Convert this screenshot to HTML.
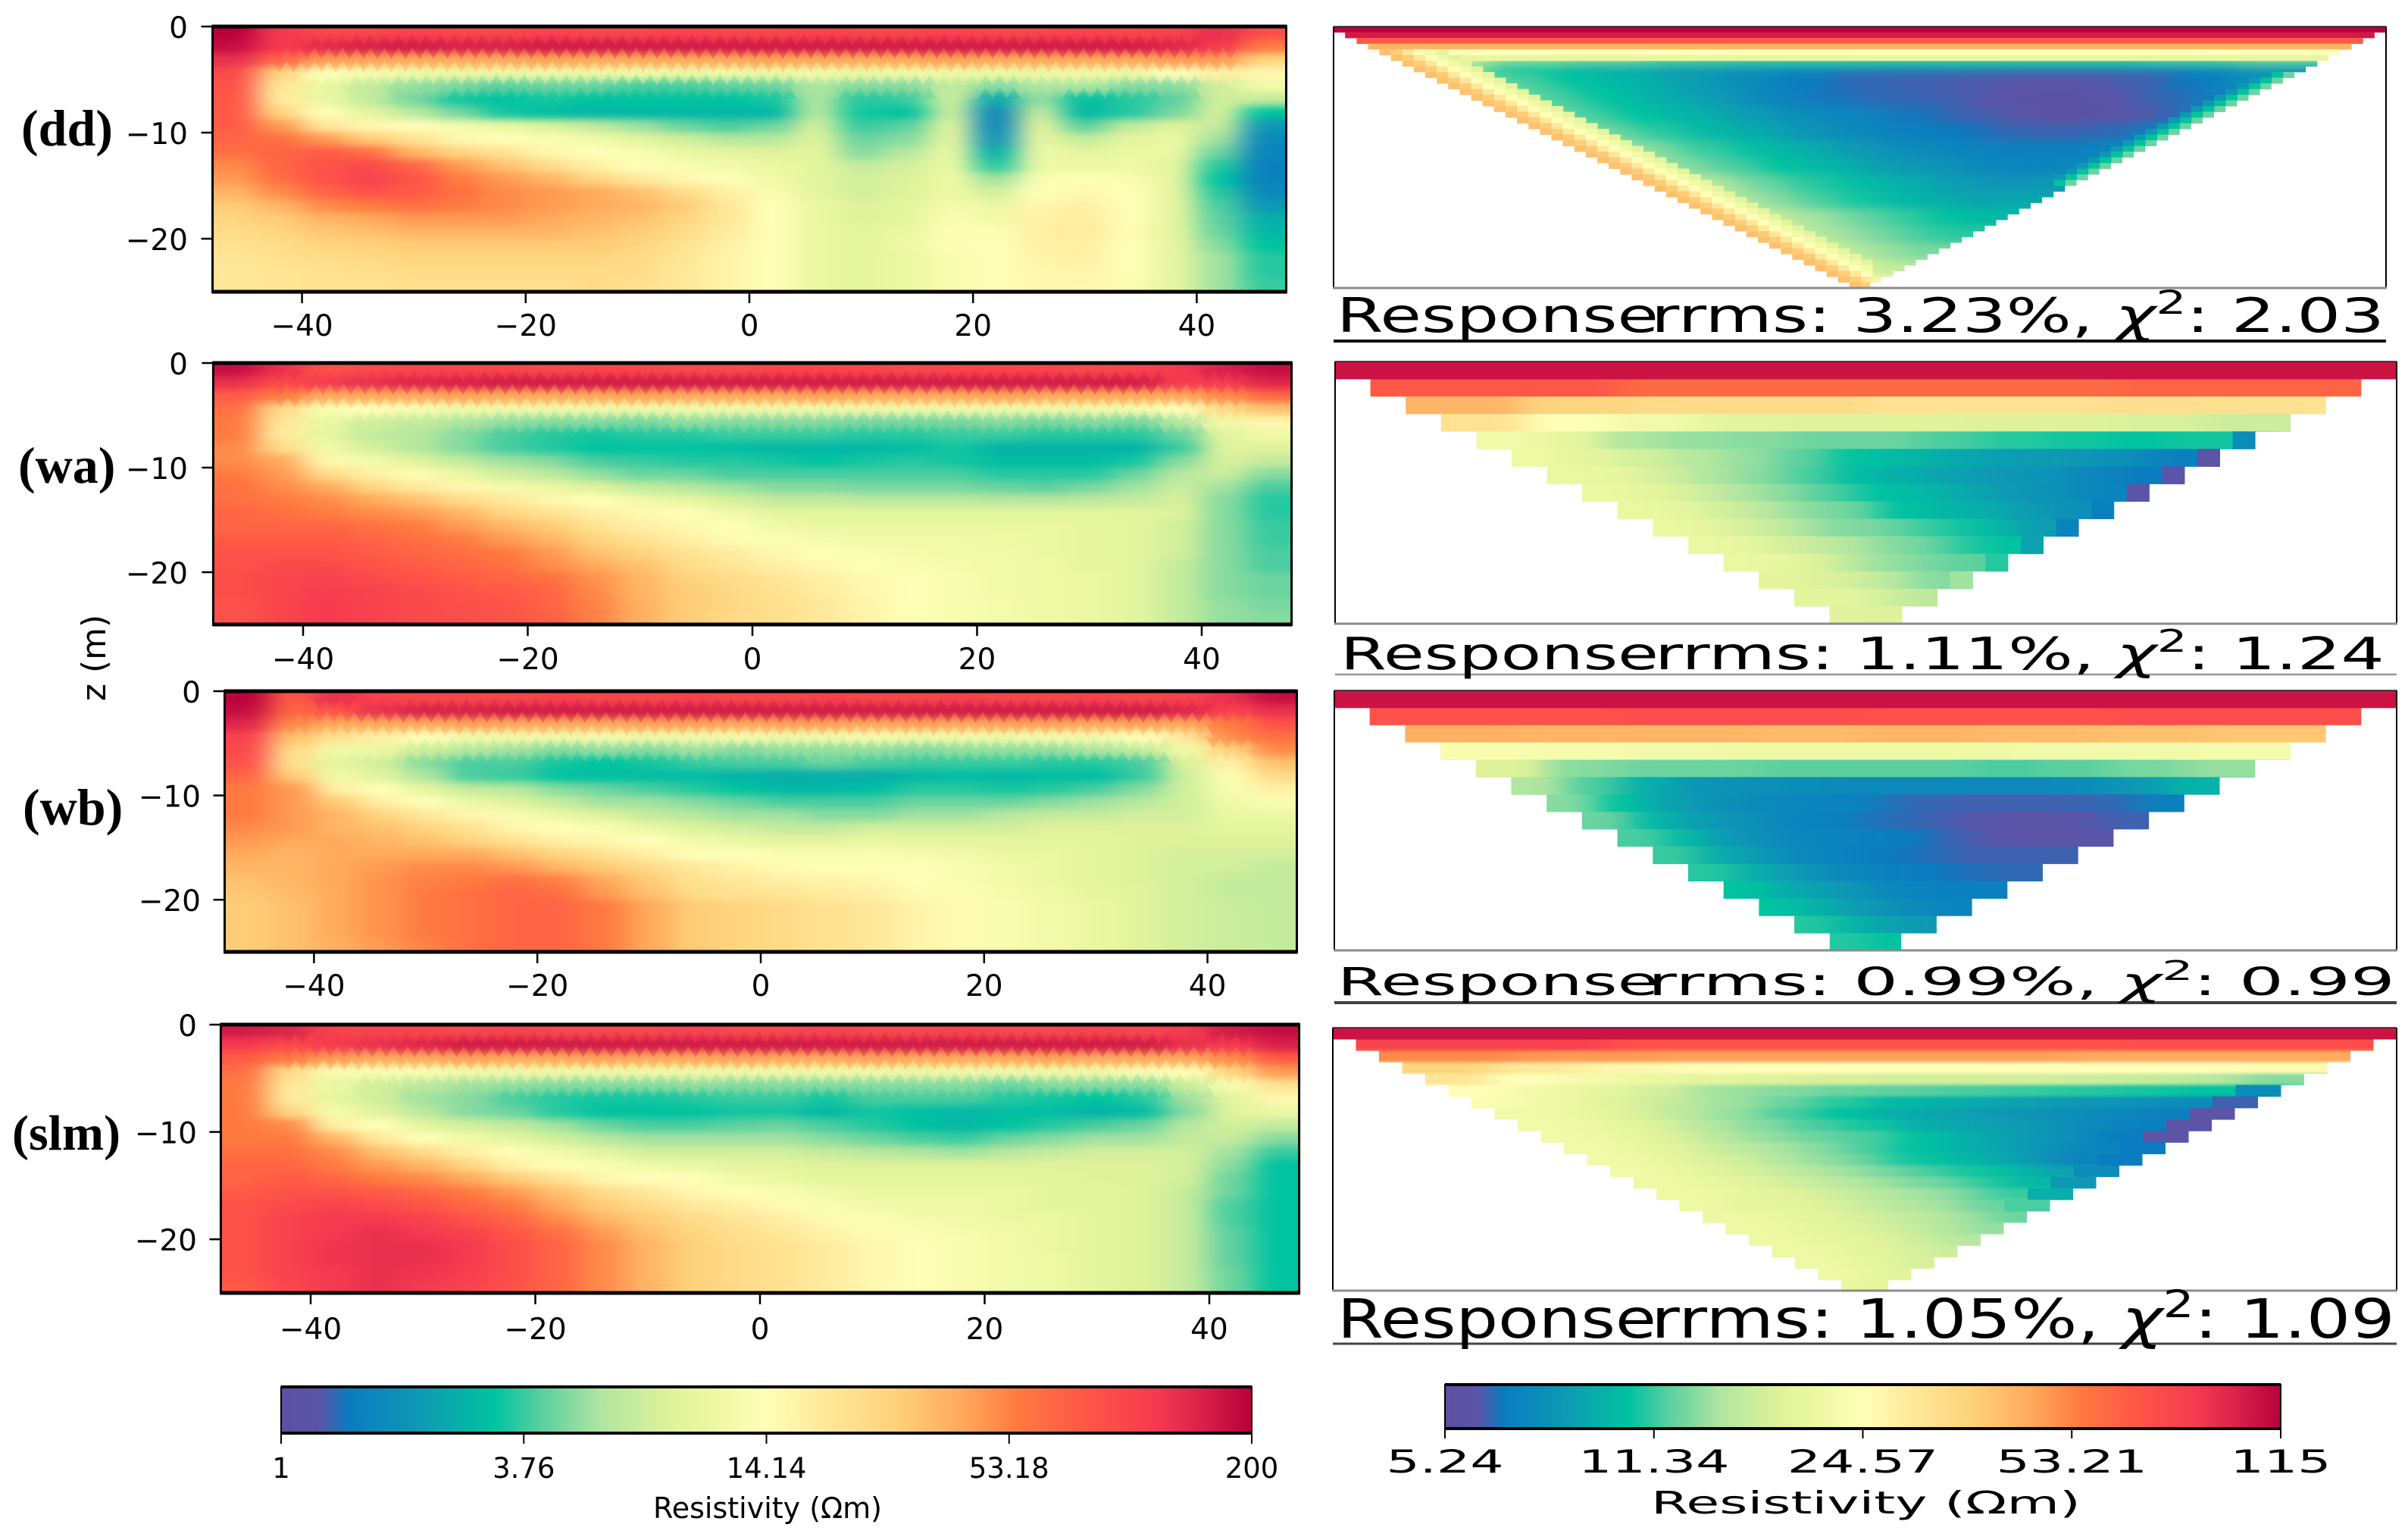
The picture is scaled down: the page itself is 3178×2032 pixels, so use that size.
<!DOCTYPE html>
<html lang="en">
<head>
<meta charset="utf-8">
<title>Resistivity model and response sections</title>
<style>
html,body{margin:0;padding:0;background:#fff;}
svg{display:block;}
text{font-family:"DejaVu Sans","Liberation Sans",sans-serif;fill:#000;}
.panel-tag{font-family:"Liberation Serif",serif;font-weight:bold;}
</style>
</head>
<body>
<svg id="figure" xmlns="http://www.w3.org/2000/svg" width="3178" height="2032" viewBox="0 0 3178 2032">
  <defs>
    <filter id="model-blur" filterUnits="userSpaceOnUse" x="0" y="0" width="3178" height="2032" color-interpolation-filters="sRGB"><feGaussianBlur stdDeviation="18 5"/></filter>
    <filter id="row-blur" filterUnits="userSpaceOnUse" x="0" y="0" width="3178" height="2032" color-interpolation-filters="sRGB"><feGaussianBlur stdDeviation="22 0"/></filter>
    <filter id="slm-blur" filterUnits="userSpaceOnUse" x="0" y="0" width="3178" height="2032" color-interpolation-filters="sRGB"><feGaussianBlur stdDeviation="22 2"/></filter>
    <filter id="dd-blur" filterUnits="userSpaceOnUse" x="0" y="0" width="3178" height="2032" color-interpolation-filters="sRGB"><feGaussianBlur stdDeviation="20 6"/></filter>
  </defs>
  <rect x="0" y="0" width="3178" height="2032" fill="#fff"/>
  <g id="marks"></g>

  <text class="panel-tag" x="28" y="192" font-size="68">(dd)</text>
  <text class="panel-tag" x="24" y="637" font-size="68">(wa)</text>
  <text class="panel-tag" x="30" y="1088" font-size="68">(wb)</text>
  <text class="panel-tag" x="16" y="1517" font-size="66">(slm)</text>
  <text transform="translate(139,868) rotate(-90)" text-anchor="middle" font-size="44">z (m)</text>

  <text class="fit" data-x="1764" data-y="438" data-w="425" font-size="62">Response</text>
  <text class="fit" data-x="2179" data-y="438" data-w="968" font-size="62">rrms: 3.23%, <tspan font-style="italic">χ</tspan><tspan dy="-24" font-size="43">2</tspan><tspan dy="24" font-size="62">: 2.03</tspan></text>
  <text class="fit" data-x="1769" data-y="883" data-w="420" font-size="59">Response</text>
  <text class="fit" data-x="2184" data-y="883" data-w="963" font-size="59">rrms: 1.11%, <tspan font-style="italic">χ</tspan><tspan dy="-23" font-size="41">2</tspan><tspan dy="23" font-size="59">: 1.24</tspan></text>
  <text class="fit" data-x="1765" data-y="1313" data-w="424" font-size="51">Response</text>
  <text class="fit" data-x="2175" data-y="1313" data-w="986" font-size="51">rrms: 0.99%, <tspan font-style="italic">χ</tspan><tspan dy="-20" font-size="36">2</tspan><tspan dy="20" font-size="51">: 0.99</tspan></text>
  <text class="fit" data-x="1765" data-y="1765" data-w="421" font-size="71">Response</text>
  <text class="fit" data-x="2179" data-y="1765" data-w="982" font-size="71">rrms: 1.05%, <tspan font-style="italic">χ</tspan><tspan dy="-27" font-size="50">2</tspan><tspan dy="27" font-size="71">: 1.09</tspan></text>

  <text x="1013" y="2003" text-anchor="middle" font-size="38">Resistivity (Ωm)</text>
  <text class="fit" data-x="2179" data-y="1997" data-w="567" font-size="41">Resistivity (Ωm)</text>
</svg>
<script>
// Axis ticks
const xTicks = [-40, -20, 0, 20, 40];
const zTicks = [0, -10, -20];
const leftBarLabels = ['1', '3.76', '14.14', '53.18', '200'];
const rightBarLabels = ['5.24', '11.34', '24.57', '53.21', '115'];

// Depth-section cells: colour position 0-100 on the log resistivity scale.
// Each row is a depth slice, each entry a 4 m wide column from x=-48 to x=48.
const ddModel = [
[100,90,87,87,88,87,87,88,87,87,88,87,87,88,87,87,88,87,87,88,87,88,92,85],
[98,90,93,95,96,95,95,96,96,96,96,96,96,96,96,96,96,96,96,96,96,94,90,76],
[92,80,72,71,70,70,70,71,70,70,70,70,71,70,70,70,71,70,70,70,70,72,72,62],
[86,62,50,47,46,45,45,46,45,46,45,46,45,46,45,46,45,45,45,46,45,50,54,52],
[84,56,44,36,31,29,27,28,28,26,26,27,28,33,30,30,36,30,33,33,30,30,38,46],
[83,55,44,36,29,23,22,23,22,22,22,22,23,33,24,25,38,17,31,21,24,27,38,36],
[82,62,50,42,35,29,23,21,20,20,20,20,20,34,23,22,37,10,36,20,24,29,39,22],
[82,72,56,52,50,47,44,40,36,32,28,26,28,38,25,27,41,10,41,27,36,40,36,14],
[80,78,72,64,58,52,50,48,46,42,38,34,34,40,28,30,42,13,43,36,42,44,32,10],
[78,80,82,78,68,62,58,52,50,48,44,42,40,42,30,34,44,18,45,42,44,44,28,9],
[74,80,84,86,80,72,66,60,54,50,48,46,44,42,36,38,44,24,45,45,45,42,24,8],
[72,78,84,88,84,76,72,68,62,56,52,50,46,42,38,40,45,32,48,50,48,42,22,8],
[68,74,80,84,82,78,74,72,70,66,60,54,48,42,38,40,45,38,50,52,50,42,24,10],
[64,68,74,76,78,76,74,72,70,68,64,56,50,44,40,42,47,44,52,54,50,42,26,14],
[62,64,68,70,72,72,72,70,68,66,62,56,50,44,40,42,48,46,54,55,50,42,27,18],
[60,62,65,66,68,68,68,68,66,64,60,55,50,44,42,44,49,49,54,55,51,42,28,20],
[58,60,62,63,64,64,64,64,64,62,58,54,50,44,42,45,49,50,54,54,50,42,30,22],
[57,58,60,61,62,62,62,62,62,60,57,53,50,44,42,44,48,50,53,54,50,42,32,24],
[56,57,58,59,60,60,60,60,60,60,56,53,50,44,42,44,48,50,52,53,50,42,32,24],
[56,57,58,58,59,59,59,59,60,59,56,53,50,44,42,44,48,50,52,52,49,42,32,25]
];
const waModel = [
[98,92,84,86,87,87,87,86,87,87,86,86,87,87,87,86,87,87,87,86,87,90,95,98],
[92,86,90,92,94,95,96,96,96,96,96,96,96,96,96,96,96,96,96,96,96,90,90,94],
[82,76,70,70,70,71,70,70,70,71,70,70,70,71,70,70,70,71,70,70,70,70,74,80],
[78,60,48,50,48,46,46,46,46,46,46,46,46,46,46,46,46,46,46,46,47,50,60,66],
[76,56,44,38,36,33,31,30,30,29,31,30,30,30,29,29,29,30,29,30,29,34,46,52],
[76,55,43,36,34,30,26,24,23,24,24,25,25,25,24,24,25,25,24,24,24,28,42,46],
[74,60,46,39,34,30,26,24,22,22,22,21,20,20,20,21,23,19,19,19,19,25,41,40],
[74,70,52,47,41,36,32,30,26,25,24,24,23,22,23,24,23,21,21,21,23,30,39,36],
[76,72,60,54,49,44,38,35,31,28,28,26,26,26,26,26,26,24,24,24,28,34,37,30],
[78,74,70,62,56,52,47,44,40,36,34,32,30,30,29,29,29,28,27,29,32,37,32,26],
[78,76,74,70,66,60,56,52,50,46,43,39,36,36,35,35,35,34,34,35,36,39,30,24],
[80,78,76,74,72,68,62,58,54,52,50,46,42,42,42,42,42,42,42,42,42,40,30,24],
[80,80,80,78,76,72,68,64,58,54,52,50,46,44,44,44,44,44,44,43,42,38,30,25],
[82,82,82,80,78,76,72,68,62,58,54,51,49,47,46,46,46,45,44,43,42,38,30,25],
[84,84,84,82,80,78,76,72,66,62,58,55,52,50,48,47,46,46,44,43,42,38,30,26],
[84,86,86,84,82,80,78,74,70,66,60,57,54,52,50,48,47,46,45,43,42,36,30,26],
[85,87,88,86,84,82,80,78,73,68,63,60,57,54,52,50,48,46,45,44,42,36,30,28],
[85,87,89,88,86,84,82,80,74,68,64,61,58,55,52,50,48,46,45,44,42,36,30,28],
[84,87,90,88,86,85,84,80,75,69,64,61,59,56,53,50,48,47,45,44,42,36,31,29],
[84,87,90,88,86,85,84,81,75,69,64,61,59,56,53,50,48,47,45,44,42,36,31,30]
];
const wbModel = [
[100,82,92,88,87,87,87,88,87,87,88,87,87,88,87,87,88,87,87,88,87,88,92,98],
[98,80,84,92,95,95,96,96,96,96,96,96,96,96,96,96,96,96,96,96,96,94,88,92],
[94,74,70,70,70,71,70,70,70,71,71,70,71,71,70,71,70,71,71,70,71,70,76,84],
[88,66,58,54,50,46,46,46,47,46,46,47,46,46,47,46,46,46,47,46,50,56,74,78],
[86,60,46,44,37,34,32,30,31,30,32,30,31,31,31,30,31,31,31,33,36,46,62,74],
[84,58,42,38,30,26,26,23,22,23,25,26,26,28,26,25,25,25,24,24,26,40,54,66],
[80,64,46,41,33,26,25,22,21,21,21,19,18,18,18,20,21,20,21,21,25,38,49,60],
[76,72,54,50,42,36,34,30,28,26,24,22,20,20,21,24,24,23,24,26,30,38,48,54],
[76,72,64,54,50,44,40,36,32,32,30,28,26,26,26,28,28,28,30,32,34,38,46,48],
[76,72,68,62,56,52,48,44,40,36,34,32,32,30,30,32,32,34,36,36,38,38,44,44],
[74,72,68,66,62,58,52,50,48,44,40,38,36,36,38,38,38,38,40,40,40,40,42,42],
[72,70,70,68,66,62,58,54,52,50,46,44,42,42,44,42,42,42,42,42,40,40,40,40],
[70,68,70,70,70,70,66,62,58,54,50,50,48,48,48,47,46,44,44,42,40,38,38,38],
[68,68,70,72,74,74,72,68,64,60,56,53,51,50,50,50,48,46,44,42,40,38,38,36],
[66,68,70,73,75,76,78,75,70,64,58,56,54,53,52,50,48,46,44,42,40,38,36,36],
[65,67,70,73,76,78,80,78,72,66,60,58,57,55,54,51,49,47,45,43,41,38,36,36],
[64,66,70,73,76,78,80,80,76,70,64,62,60,58,56,53,51,48,46,44,41,38,37,36],
[64,66,70,73,76,78,80,80,76,70,64,62,60,58,56,53,51,48,46,44,41,38,37,36],
[64,66,70,73,76,78,80,80,76,70,64,62,60,58,56,53,51,48,46,44,41,38,37,36],
[64,66,69,72,75,78,80,80,76,70,64,62,60,58,56,53,51,48,46,44,41,38,37,36]
];
const slmModel = [
[96,94,88,87,87,87,88,87,87,87,88,87,87,88,87,87,88,87,87,88,87,90,96,98],
[90,86,90,92,94,96,96,96,96,96,96,96,96,96,96,96,96,96,96,96,96,92,90,95],
[82,76,72,70,70,71,70,70,71,70,70,71,70,70,71,70,70,70,71,70,70,70,74,82],
[78,60,48,48,48,46,46,46,46,46,46,46,46,46,46,46,46,46,46,46,48,50,62,72],
[76,56,44,38,35,32,31,30,30,30,31,30,30,30,30,30,30,28,30,30,30,37,48,58],
[76,55,43,38,32,30,26,24,23,23,24,25,25,23,26,26,26,24,23,22,24,32,42,52],
[76,62,47,41,35,30,28,24,22,22,22,23,23,20,23,21,20,21,21,19,21,30,41,44],
[76,74,54,50,42,38,36,32,28,26,26,27,28,26,24,22,20,22,24,26,28,34,38,36],
[76,76,68,56,50,46,42,38,34,32,32,32,32,30,28,26,25,28,30,32,32,36,36,30],
[78,78,74,66,60,54,50,46,42,38,38,38,38,36,34,33,32,34,36,38,38,38,32,25],
[80,80,76,72,68,62,54,50,48,46,44,42,42,40,40,40,40,40,40,40,40,38,30,22],
[80,82,80,76,74,70,64,58,52,50,50,46,44,42,42,42,42,42,42,40,40,38,28,22],
[82,84,84,82,80,76,72,66,60,56,52,50,48,46,44,44,44,44,42,42,40,36,28,22],
[84,86,88,86,84,80,76,70,64,60,56,54,51,48,46,45,45,44,42,42,40,36,26,22],
[84,88,90,90,88,84,80,74,68,64,60,57,54,51,49,47,46,44,44,42,40,36,26,22],
[84,88,90,92,90,88,83,78,72,66,62,59,56,53,51,49,47,46,44,42,40,36,27,22],
[84,88,91,92,92,90,85,80,74,68,63,60,58,55,52,50,48,46,44,42,40,36,27,22],
[84,88,91,92,92,90,85,80,74,68,63,60,58,55,52,50,48,46,45,42,40,36,27,22],
[84,88,90,92,91,89,85,80,74,68,63,60,58,55,52,50,48,46,45,42,40,36,28,22],
[82,87,90,92,90,88,84,80,74,68,63,60,58,55,52,50,48,46,45,42,40,36,28,22]
];

// Response pseudosections: one array per level, values spread across that level.
const ddResponse = [
[100],[96],[82],[68],[50],[43],
[38,30,28,26,25,25,25,25,25,26,28],
[30,22,18,15,12,11,10,10,10,10,11,14],
[32,26,22,19,15,11,7,5.5,5,4.5,4,4,5,7,12],
[34,26,22,18,14,9,6.5,5.5,5,3,2,3,5.5,8],
[34,26,22,19,15,11,9,6.5,5,3,2,4,6],
[36,28,24,20,17,13,10,8,7,5.5,5,5.5,8],
[36,30,25,21,18,14,11,9,8,8,9],
[36,30,26,22,19,15,13,10,9,10],
[38,33,28,24,21,18,15,13,14],
[38,34,30,26,23,20,18,16,17],
[42,36,32,28,25,22,20],
[42,36,32,29,26,24],
[44,38,34,31,29],
[48,42,38,35],
[60,50]
];
const ddLevelSpans = [1,1,1,1,1,1,1,1,3,3,3,3,3,3,3,3,3,3,3,3,2];
const ddEdgeLeft = [66,64,56,50,46,42];
const ddEdgeRight = [28,22,14];
const waResponse = [
[97],
[83,79,79,80],
[68,62,60,60,58,58,59,58],
[58,50,46,42,41,41,40,40,39,37],
[46,43,33,31,30,28,28,26,24,23,22,23],
[45,42,38,34,31,27,22,20,17,15,14,12,8],
[44,43,38,33,30,26,21,18,16,14,13,10,7],
[44,42,38,33,30,26,22,20,17,14,12,9],
[44,42,38,34,30,28,22,20,18,15,12],
[44,42,38,34,30,29,26,23,20,15],
[44,43,39,36,33,30,28,24,22],
[44,43,40,34,31,29,27],
[42,40,38,34,30],
[42,42,38,35],
[41,40]
];
const waEdge = [null,null,null,null,11,3,3,3,8,9,16,24,32,null,null];
const wbResponse = [
[97],
[84,85,84,85],
[69,68,68,67,68,67,66,65],
[48,47,46,45,45,45,46,46,47],
[40,30,28,28,27,27,27,26,27,29,31],
[33,26,18,13,12,11,10,10,10,10,11,14,19],
[30,22,16,12,10,9,8,5.5,5,5,5,5.5,8],
[28,20,15,12,9,8,6,5,4,3,4,5],
[26,20,14,11,9,8,7,5,4,3,3],
[25,18,14,10,8,7,6,5,5,5],
[24,18,14,10,8,7,6,5.5],
[22,17,14,10,8,8],
[22,18,14,11,9],
[24,20,16,14],
[24,22]
];
const slmResponse = [
[97],
[88,84,84,85],
[74,72,71,71,71,70,70],
[62,56,52,50,50,50,50,50,50,51],
[57,50,47,44,42,40,39,38,38,38,37,36,34,30],
[50,46,43,38,32,30,28,27,26,25,24,23,22],
[48,45,41,36,32,28,24,20,18,16,14,13,11],
[46,44,40,35,31,26,22,18,16,14,12,10,8],
[46,44,40,34,30,26,23,18,16,14,11,8],
[46,44,40,35,31,28,26,22,18,15,12,7],
[46,44,41,36,33,30,26,22,19,16,12,9],
[46,44,41,38,34,31,28,23,21,18,14,9],
[46,44,41,38,35,32,29,26,23,21,16],
[45,44,42,39,36,33,30,28,24,20],
[45,44,42,40,37,34,32,29,25],
[45,43,42,40,37,34,32,28],
[45,44,42,40,37,35,32,28],
[45,44,42,40,37,34,31],
[45,44,42,40,37,34],
[45,44,42,40,37],
[45,44,42,39],
[45,44,41],
[44,42]
];
const slmEdge = [null,null,null,null,null,11,5,3,3,3,7,7,11,14,18,26,null,null,null,null,null,null,null];

// Colour scale: position on the colourbar and the colour seen there
const scalePositions = [0,4,7,14,22,27,33,40,45,50,56,63,70,76,82,90,95,100];
const scaleColours = ['#5e4fa2','#5a55a8','#0a7cc0','#0e98b4','#00c3a0','#5dd0a0','#b0e6a0','#dff29a','#eef9a4','#ffffb8','#ffe89a','#ffd27c','#ffaa5c','#ff7a40','#ff5a46','#f53a50','#d8204a','#b8003c'];

const NS = 'http://www.w3.org/2000/svg';
const marks = document.getElementById('marks');
function mk(tag, attrs, parent) {
  const el = document.createElementNS(NS, tag);
  for (const k in attrs) el.setAttribute(k, attrs[k]);
  parent.appendChild(el);
  return el;
}
function hexRgb(h) {
  return [parseInt(h.slice(1,3),16), parseInt(h.slice(3,5),16), parseInt(h.slice(5,7),16)];
}
function colour(t) {
  const v = Math.max(0, Math.min(100, t));
  let i = 0;
  while (i < scalePositions.length - 2 && v > scalePositions[i + 1]) i++;
  const f = (v - scalePositions[i]) / (scalePositions[i + 1] - scalePositions[i]);
  const a = hexRgb(scaleColours[i]);
  const b = hexRgb(scaleColours[i + 1]);
  return 'rgb(' + [0,1,2].map(function (n) { return Math.round(a[n] + (b[n] - a[n]) * f); }).join(',') + ')';
}
function tickText(v) {
  return String(v).replace('-', '\u2212');
}

// Layout of the four depth sections
const modelPanels = [
  {id:'dd', values:ddModel, zeroX:989, pxPerX:14.76, zeroY:35, pxPerZ:14.0, labelEnd:248, labelY:443},
  {id:'wa', values:waModel, zeroX:993, pxPerX:14.825, zeroY:479, pxPerZ:13.8, labelEnd:248, labelY:883},
  {id:'wb', values:wbModel, zeroX:1004, pxPerX:14.74, zeroY:912, pxPerZ:13.76, labelEnd:265, labelY:1314},
  {id:'slm', values:slmModel, zeroX:1003, pxPerX:14.825, zeroY:1352, pxPerZ:14.16, labelEnd:260, labelY:1767}
];
// Mesh spacing of the triangles that roughen the shallow layers (metres)
const meshStep = 1.25;
const meshHalfHeight = 0.55;
const meshLayers = 5;

modelPanels.forEach(function (p) {
  const xPos = function (x) { return p.zeroX + x * p.pxPerX; };
  const zPos = function (z) { return p.zeroY - z * p.pxPerZ; };
  const left = xPos(-48), right = xPos(48), top = zPos(0), bottom = zPos(-25);
  const clipId = 'clip-' + p.id;
  const cp = mk('clipPath', {id: clipId}, marks);
  mk('rect', {x: left, y: top, width: right - left, height: bottom - top}, cp);
  const holder = mk('g', {'clip-path': 'url(#' + clipId + ')'}, marks);
  
  
  const g = mk('g', {filter: 'url(#model-blur)'}, holder);
  const nRows = p.values.length;
  const rowDepth = 25 / nRows;
  p.values.forEach(function (row, r) {
    const colWidth = 96 / row.length;
    row.forEach(function (v, c) {
      let x0 = xPos(-48 + c * colWidth), x1 = xPos(-48 + (c + 1) * colWidth);
      let y0 = zPos(-r * rowDepth), y1 = zPos(-(r + 1) * rowDepth);
      if (c === 0) x0 -= 90;
      if (c === row.length - 1) x1 += 90;
      if (r === 0) y0 -= 40;
      if (r === nRows - 1) y1 += 40;
      const cell = mk('rect', {x: x0, y: y0, width: x1 - x0 + 0.6, height: y1 - y0 + 0.6, fill: colour(v)}, g);
      
      
    });
  });
  const mesh = mk('g', {}, holder);
  
  
  for (let r = 0; r < meshLayers; r++) {
    const boundary = (r + 1) * rowDepth;
    for (let x = -42; x < 44; x += meshStep) {
      const col = Math.floor((x + 48) / 4);
      const upper = p.values[r][col];
      const lower = p.values[r + 1][col];
      const tri = mk('polygon', {
        points: [xPos(x - meshStep / 2), zPos(-(boundary - meshHalfHeight)), xPos(x + meshStep / 2), zPos(-(boundary - meshHalfHeight)), xPos(x), zPos(-(boundary + meshHalfHeight))].join(','),
        fill: colour(upper), opacity: 0.3}, mesh);
      
      
      const tri2 = mk('polygon', {
        points: [xPos(x), zPos(-(boundary + meshHalfHeight)), xPos(x + meshStep), zPos(-(boundary + meshHalfHeight)), xPos(x + meshStep / 2), zPos(-(boundary - meshHalfHeight))].join(','),
        fill: colour(lower), opacity: 0.22}, mesh);
      
      
    }
  }
  const frame = mk('rect', {x: left, y: top, width: right - left, height: bottom - top, fill: 'none', stroke: '#000', 'stroke-width': 3}, marks);
  
  
  [top, bottom].forEach(function (yy) {
    const edge = mk('line', {x1: left - 1, x2: right + 1, y1: yy, y2: yy, stroke: '#000', 'stroke-width': 5}, marks);
    
    
  });
  xTicks.forEach(function (v) {
    const tick = mk('line', {x1: xPos(v), x2: xPos(v), y1: bottom, y2: bottom + 15, stroke: '#000', 'stroke-width': 2.5}, marks);
    
    
    const label = mk('text', {x: xPos(v), y: p.labelY, 'text-anchor': 'middle', 'font-size': 39}, marks);
    label.textContent = tickText(v);
    
    
  });
  zTicks.forEach(function (v) {
    const tick = mk('line', {x1: left - 15, x2: left, y1: zPos(v), y2: zPos(v), stroke: '#000', 'stroke-width': 2.5}, marks);
    
    
    const label = mk('text', {x: p.labelEnd, y: zPos(v) + 15, 'text-anchor': 'end', 'font-size': 39}, marks);
    label.textContent = tickText(v);
    
    
  });
});

// Layout of the four pseudosections
const responsePanels = [
  {id:'dd', levels:ddResponse, spans:ddLevelSpans, x0:1760, x1:3149, y0:35, y1:380, rowH:7.5, step:15.13, edge:null, edgeW:0, filter:'dd-blur', under:450, underW:4, underC:'#111'},
  {id:'wa', levels:waResponse, spans:null, x0:1762, x1:3163, y0:477, y1:823, rowH:23.07, step:46.6, edge:waEdge, edgeW:30, filter:'row-blur', under:890, underW:2.5, underC:'#999'},
  {id:'wb', levels:wbResponse, spans:null, x0:1761, x1:3163, y0:911, y1:1254, rowH:22.87, step:46.7, edge:null, edgeW:0, filter:'row-blur', under:1323, underW:4, underC:'#444'},
  {id:'slm', levels:slmResponse, spans:null, x0:1759, x1:3163, y0:1356, y1:1703, rowH:15.13, step:30.5, edge:slmEdge, edgeW:60, filter:'slm-blur', under:1773, underW:3, underC:'#444'}
];

responsePanels.forEach(function (p) {
  const spans = p.spans || p.levels.map(function () { return 1; });
  const totalRows = spans.reduce(function (a, b) { return a + b; }, 0);
  const rowLeft = function (i) { return p.x0 + i * p.step; };
  const rowRight = function (i) { return p.x1 - i * p.step; };
  const rowTop = function (i) { return p.y0 + i * p.rowH; };
  const clipId = 'stair-' + p.id;
  const cp = mk('clipPath', {id: clipId}, marks);
  for (let i = 0; i < totalRows; i++) {
    mk('rect', {x: rowLeft(i), y: rowTop(i), width: Math.max(rowRight(i) - rowLeft(i), 0), height: p.rowH + 0.4}, cp);
  }
  const holder = mk('g', {'clip-path': 'url(#' + clipId + ')'}, marks);
  
  
  const soft = mk('g', {filter: 'url(#' + p.filter + ')'}, holder);
  const crisp = mk('g', {}, holder);
  let rowIndex = 0;
  let firstBody = true;
  p.levels.forEach(function (vals, level) {
    const lastLevel = level === p.levels.length - 1;
    for (let s = 0; s < spans[level]; s++) {
      const i = rowIndex + s;
      const edgeVal = p.edge ? p.edge[level] : null;
      const endX = rowRight(i) - (edgeVal !== null ? p.edgeW : 0);
      const w = (endX - rowLeft(i)) / vals.length;
      vals.forEach(function (v, k) {
        let cx = rowLeft(i) + k * w, cw = w + 0.6;
        let cy = rowTop(i), ch = p.rowH + 0.5;
        if (vals.length === 1) {
          const band = mk('rect', {x: cx, y: cy, width: cw, height: ch, fill: colour(v)}, crisp);
          
          
          return;
        }
        if (k === 0) { cx -= 90; cw += 90; }
        if (k === vals.length - 1) { cw += 90; }
        if (firstBody) { cy -= 30; ch += 30; }
        if (lastLevel) { ch += 40; }
        const cell = mk('rect', {x: cx, y: cy, width: cw, height: ch, fill: colour(v)}, soft);
        
        
      });
      if (edgeVal !== null) {
        const ec = mk('rect', {x: endX, y: rowTop(i), width: p.edgeW, height: p.rowH + 0.5, fill: colour(edgeVal)}, crisp);
        
        
      }
      if (vals.length > 1) firstBody = false;
    }
    rowIndex += spans[level];
  });
  if (p.id === 'dd') {
    for (let i = 4; i < totalRows; i++) {
      ddEdgeLeft.forEach(function (v, j) {
        const cx = rowLeft(i) + j * p.step;
        if (cx + p.step * 0.5 > (rowLeft(i) + rowRight(i)) / 2 + p.step) return;
        const c = mk('rect', {x: cx, y: rowTop(i), width: p.step + 0.5, height: p.rowH + 0.5, fill: colour(v)}, crisp);
        
        
      });
      if (i >= 8 && i < 28) {
        ddEdgeRight.forEach(function (v, j) {
          const c = mk('rect', {x: rowRight(i) - (j + 1) * p.step, y: rowTop(i), width: p.step + 0.5, height: p.rowH + 0.5, fill: colour(v)}, crisp);
          
          
        });
      }
    }
  }
  [p.x0, p.x1].forEach(function (xx) {
    const side = mk('line', {x1: xx, x2: xx, y1: p.y0, y2: p.y1, stroke: '#000', 'stroke-width': 2}, marks);
    
    
  });
  const topLine = mk('line', {x1: p.x0, x2: p.x1, y1: p.y0, y2: p.y0, stroke: '#222', 'stroke-width': 1.5}, marks);
  
  
  const bottomLine = mk('line', {x1: p.x0 - 1, x2: p.x1 + 1, y1: p.y1, y2: p.y1, stroke: '#8c8c8c', 'stroke-width': 3}, marks);
  
  
  const under = mk('line', {x1: p.x0, x2: p.x1, y1: p.under, y2: p.under, stroke: p.underC, 'stroke-width': p.underW}, marks);
  
  
});

// Colourbars
const defs = document.querySelector('defs');
const grad = mk('linearGradient', {id: 'scale-gradient', x1: 0, x2: 1, y1: 0, y2: 0}, defs);
scalePositions.forEach(function (pos, i) {
  mk('stop', {offset: pos + '%', 'stop-color': scaleColours[i]}, grad);
});
const colourbars = [
  {id:'left', labels:leftBarLabels, x0:371, x1:1652, y0:1830, y1:1891, tickEnd:1905, labelY:1950, fontSize:37, sx:1},
  {id:'right', labels:rightBarLabels, x0:1907, x1:3010, y0:1827, y1:1885, tickEnd:1898, labelY:1943, fontSize:42, sx:1.66}
];
colourbars.forEach(function (b) {
  const bar = mk('rect', {x: b.x0, y: b.y0, width: b.x1 - b.x0, height: b.y1 - b.y0, fill: 'url(#scale-gradient)'}, marks);
  
  
  const outline = mk('rect', {x: b.x0, y: b.y0, width: b.x1 - b.x0, height: b.y1 - b.y0, fill: 'none', stroke: '#000', 'stroke-width': 2}, marks);
  
  
  [b.y0, b.y1].forEach(function (yy) {
    const edge = mk('line', {x1: b.x0, x2: b.x1, y1: yy, y2: yy, stroke: '#000', 'stroke-width': 4}, marks);
    
    
  });
  b.labels.forEach(function (txt, i) {
    const xx = b.x0 + (b.x1 - b.x0) * i / (b.labels.length - 1);
    const tick = mk('line', {x1: xx, x2: xx, y1: b.y1, y2: b.tickEnd, stroke: '#000', 'stroke-width': 2}, marks);
    
    
    const label = mk('text', {transform: 'translate(' + xx + ',' + b.labelY + ') scale(' + b.sx + ',1)', 'text-anchor': 'middle', 'font-size': b.fontSize}, marks);
    label.textContent = txt;
    
    
  });
});

// Stretch the wide titles to the measured widths
document.querySelectorAll('text.fit').forEach(function (t) {
  const natural = t.getComputedTextLength();
  const sx = parseFloat(t.getAttribute('data-w')) / natural;
  t.setAttribute('transform', 'translate(' + t.getAttribute('data-x') + ',' + t.getAttribute('data-y') + ') scale(' + sx + ',1)');
});
</script>
</body>
</html>
